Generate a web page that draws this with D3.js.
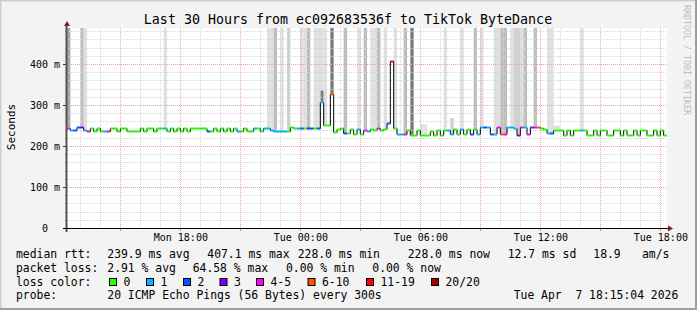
<!DOCTYPE html>
<html>
<head>
<meta charset="utf-8">
<script src="https://cdn.jsdelivr.net/npm/d3@7/dist/d3.min.js"></script>
<style>
  body { margin: 0; background: #fff; }
  svg text { font-family: "DejaVu Sans Mono", monospace; white-space: pre; }
</style>
</head>
<body>
<div id="chart"></div>
<script>
// 10 minute bins, Mon 12:20 -> Tue 18:20
const startTime = new Date(2026, 3, 6, 12, 20);
const endTime = new Date(2026, 3, 7, 18, 20);
const binMinutes = 10;

// median rtt per bin (ms)
const medianMs = [
  245, 240, 240, 247, 246, 238, 237, 244, 237, 244,
  237, 237, 237, 244, 244, 237, 244, 244, 237, 237,
  237, 237, 244, 237, 244, 244, 237, 244, 244, 244,
  237, 244, 237, 244, 237, 244, 237, 244, 244, 244,
  244, 244, 236, 237, 244, 237, 244, 237, 244, 237,
  244, 237, 237, 244, 237, 237, 244, 244, 237, 244,
  244, 240, 237, 237, 237, 237, 237, 246, 245, 244,
  244, 244, 244, 244, 243, 244, 308, 252, 250, 326,
  233, 242, 245, 231, 231, 241, 230, 241, 230, 240,
  236, 242, 240, 245, 240, 241, 255, 407, 244, 230,
  230, 230, 240, 228, 228, 238, 228, 228, 228, 237,
  228, 238, 228, 238, 240, 230, 241, 230, 241, 230,
  241, 230, 241, 230, 247, 247, 247, 230, 230, 247,
  230, 230, 247, 247, 245, 228, 247, 247, 229, 247,
  247, 246, 244, 241, 232, 232, 240, 240, 240, 228,
  240, 228, 240, 240, 238, 239, 228, 228, 239, 228,
  239, 239, 228, 228, 239, 239, 228, 239, 228, 228,
  239, 228, 239, 239, 228, 228, 239, 228, 239, 228,
];

// lost pings (of 20) per bin
const lossCount = [
  4, 1, 2, 2, 3, 1, 4, 0, 0, 0,
  0, 1, 4, 0, 0, 0, 0, 0, 0, 0,
  0, 0, 0, 0, 0, 0, 0, 0, 0, 1,
  0, 0, 0, 0, 0, 0, 0, 0, 0, 0,
  0, 0, 2, 0, 0, 0, 0, 0, 0, 0,
  0, 1, 0, 0, 0, 0, 1, 0, 0, 1,
  1, 1, 1, 1, 1, 1, 0, 0, 0, 1,
  2, 0, 3, 2, 0, 2, 1, 0, 0, 7,
  0, 0, 0, 2, 0, 0, 0, 1, 0, 4,
  1, 0, 0, 4, 0, 0, 2, 13, 0, 1,
  1, 4, 0, 0, 0, 0, 0, 0, 0, 0,
  0, 0, 0, 0, 1, 1, 0, 0, 1, 0,
  0, 2, 0, 1, 1, 2, 1, 2, 1, 4,
  7, 4, 1, 1, 1, 3, 4, 1, 4, 2,
  4, 7, 0, 0, 1, 2, 0, 0, 0, 0,
  0, 0, 0, 0, 1, 0, 0, 0, 0, 0,
  0, 0, 0, 0, 0, 0, 0, 0, 0, 0,
  0, 0, 0, 0, 0, 0, 0, 0, 0, 0,
];

// smoke: bin, highest rtt reached (ms), pings up there
const smokeBin = [
  0, 4, 5, 29, 60, 61, 62, 64, 66, 70,
  71, 72, 74, 75, 76, 76, 77, 79, 83, 87,
  89, 91, 92, 93, 95, 98, 101, 103, 106, 107,
  113, 115, 118, 122, 124, 128, 129, 130, 131, 133,
  134, 135, 136, 137, 140, 144, 145, 146, 147, 154,
];
const smokeHigh = [
  500, 500, 500, 500, 500, 500, 500, 500, 500, 500,
  500, 500, 500, 500, 500, 335, 500, 500, 500, 500,
  500, 500, 500, 500, 500, 500, 500, 500, 254, 253,
  500, 268, 500, 500, 500, 500, 500, 500, 500, 500,
  500, 500, 500, 500, 500, 500, 500, 250, 250, 500,
];
const smokeCount = [
  4, 3, 1, 1, 1, 1, 3, 1, 2, 1,
  1, 3, 1, 1, 1, 6, 1, 8, 3, 1,
  3, 1, 1, 3, 1, 1, 3, 6, 1, 1,
  1, 2, 1, 3, 1, 1, 1, 3, 3, 1,
  2, 2, 1, 3, 3, 1, 1, 1, 1, 1,
];

const yTicks = [0, 100, 200, 300, 400];
const xTickTimes = [
  new Date(2026, 3, 6, 18), new Date(2026, 3, 7, 0), new Date(2026, 3, 7, 6),
  new Date(2026, 3, 7, 12), new Date(2026, 3, 7, 18),
];

const titleText = "Last 30 Hours from ec092683536f to TikTok ByteDance";
const rttStats = ["239.9 ms avg", "407.1 ms max", "228.0 ms min", "228.0 ms now", "12.7 ms sd", "18.9", "am/s"];
const lossStats = ["2.91 % avg", "64.58 % max", "0.00 % min", "0.00 % now"];
const lossLabels = ["0", "1", "2", "3", "4-5", "6-10", "11-19", "20/20"];
const lossColors = ["#26ff00", "#00b8ff", "#0059ff", "#7e00ff", "#ff00ff", "#ff5500", "#ff0000", "#a10000"];
const probeText = "20 ICMP Echo Pings (56 Bytes) every 300s";
const stampText = "Tue Apr  7 18:15:04 2026";

// legend column positions
const rttCols = [107.3, 207.3, 297.7, 407.7, 507.7, 593.3, 642];
const lossCols = [107.3, 192.7, 286, 372.3];
const boxCols = [109, 146, 183, 219.5, 256, 307.5, 366, 431];

const width = 697;
const height = 310;
const plot = { left: 67, right: 667, top: 28, bottom: 228 };

const svg = d3
  .select("#chart")
  .append("svg")
  .attr("width", width)
  .attr("height", height)
  .attr("viewBox", [0, 0, width, height]);

// frame
svg.append("rect").attr("width", width).attr("height", height).attr("fill", "#f3f3f3");
svg.append("path").attr("d", `M0,${height} V0 H${width}`).attr("fill", "none").attr("stroke", "#cfcfcf").attr("stroke-width", 3);
svg.append("path").attr("d", `M0,${height} H${width} V0`).attr("fill", "none").attr("stroke", "#9e9e9e").attr("stroke-width", 4);

svg
  .append("rect")
  .attr("x", plot.left)
  .attr("y", plot.top)
  .attr("width", plot.right - plot.left)
  .attr("height", plot.bottom - plot.top)
  .attr("fill", "#fff");

const x = d3.scaleTime().domain([startTime, endTime]).range([plot.left, plot.right]);
const y = d3.scaleLinear().domain([0, 487.8]).range([plot.bottom, plot.top]).clamp(true);
const binTime = (i) => d3.timeMinute.offset(startTime, i * binMinutes);

const lossIndex = (n) => (n <= 3 ? n : n <= 5 ? 4 : n <= 10 ? 5 : n <= 19 ? 6 : 7);
const smokeShade = d3
  .scaleThreshold()
  .domain([2, 3, 4, 6])
  .range(["#e0e0e0", "#d0d0d0", "#bebebe", "#a8a8a8", "#7c7c7c"]);

// smoke
svg
  .append("g")
  .selectAll("rect")
  .data(smokeBin)
  .join("rect")
  .attr("x", (b) => x(binTime(b)))
  .attr("width", (b) => x(binTime(b + 1)) - x(binTime(b)))
  .attr("y", (b, i) => y(smokeHigh[i]))
  .attr("height", (b, i) => y(medianMs[b]) - y(smokeHigh[i]))
  .attr("fill", (b, i) => smokeShade(smokeCount[i]));

// grid
const grid = svg.append("g").attr("shape-rendering", "crispEdges");
d3.timeHour.range(d3.timeHour.ceil(startTime), endTime).forEach((t) => {
  const major = t.getHours() % 3 === 0;
  const px = Math.round(x(t)) + 0.5;
  grid
    .append("line")
    .attr("x1", px)
    .attr("x2", px)
    .attr("y1", plot.top)
    .attr("y2", plot.bottom)
    .attr("stroke", major ? "#f2a2a2" : "#d6d6d6")
    .attr("stroke-dasharray", "1,1");
  if (major) {
    grid
      .append("line")
      .attr("x1", px)
      .attr("x2", px)
      .attr("y1", plot.bottom)
      .attr("y2", plot.bottom + 3)
      .attr("stroke", "#e88");
  }
});
d3.range(20, 487, 20).forEach((v) => {
  const major = v % 100 === 0;
  const py = Math.round(y(v)) + 0.5;
  grid
    .append("line")
    .attr("x1", plot.left)
    .attr("x2", plot.right)
    .attr("y1", py)
    .attr("y2", py)
    .attr("stroke", major ? "#f2a2a2" : "#d6d6d6")
    .attr("stroke-dasharray", "1,1");
  grid
    .append("line")
    .attr("x1", plot.left - (major ? 4 : 2))
    .attr("x2", plot.left)
    .attr("y1", py)
    .attr("y2", py)
    .attr("stroke", major ? "#333" : "#999");
});

// median line: black steps, loss-coloured levels
const points = medianMs.map((v, i) => ({ t: binTime(i), v }));
points.push({ t: binTime(medianMs.length), v: medianMs[medianMs.length - 1] });

svg
  .append("path")
  .datum(points)
  .attr("fill", "none")
  .attr("stroke", "#000")
  .attr("stroke-width", 1)
  .attr(
    "d",
    d3
      .line()
      .curve(d3.curveStepAfter)
      .x((p) => x(p.t))
      .y((p) => Math.round(y(p.v)) + 0.5),
  );

svg
  .append("g")
  .selectAll("line")
  .data(medianMs)
  .join("line")
  .attr("x1", (v, i) => x(binTime(i)))
  .attr("x2", (v, i) => x(binTime(i + 1)))
  .attr("y1", (v) => Math.round(y(v)) + 0.5)
  .attr("y2", (v) => Math.round(y(v)) + 0.5)
  .attr("stroke", (v, i) => lossColors[lossIndex(lossCount[i])])
  .attr("stroke-width", 2);

// axes
svg
  .append("line")
  .attr("x1", plot.left - 0.5)
  .attr("x2", plot.left - 0.5)
  .attr("y1", plot.bottom + 4)
  .attr("y2", plot.top - 3)
  .attr("stroke", "#555")
  .attr("stroke-width", 2);
svg
  .append("line")
  .attr("x1", plot.left - 4)
  .attr("x2", plot.right + 2)
  .attr("y1", plot.bottom + 0.5)
  .attr("y2", plot.bottom + 0.5)
  .attr("stroke", "#000");
svg
  .append("path")
  .attr("d", `M${plot.left - 3},${plot.top - 2} L${plot.left + 3},${plot.top - 2} L${plot.left},${plot.top - 7} Z`)
  .attr("fill", "#8b1a1a");
svg
  .append("path")
  .attr("d", `M${plot.right + 1},${plot.bottom - 2.5} L${plot.right + 1},${plot.bottom + 3.5} L${plot.right + 6},${plot.bottom + 0.5} Z`)
  .attr("fill", "#8b1a1a");

svg
  .append("g")
  .attr("transform", `translate(${plot.left},0)`)
  .call(
    d3.axisLeft(y)
      .tickValues(yTicks)
      .tickSize(0)
      .tickPadding(7)
      .tickFormat((v) => (v === 0 ? "0  " : `${v} m`)),
  )
  .call((axis) => axis.select(".domain").remove())
  .call((axis) =>
    axis
      .selectAll(".tick text")
      .attr("font-family", "DejaVu Sans Mono")
      .attr("font-size", 10)
      .attr("dy", "0.37em")
      .attr("fill", "#000"),
  );

svg
  .append("g")
  .attr("transform", `translate(0,${plot.bottom})`)
  .call(
    d3.axisBottom(x)
      .tickValues(xTickTimes)
      .tickSize(0)
      .tickPadding(6)
      .tickFormat(d3.timeFormat("%a %H:%M")),
  )
  .call((axis) => axis.select(".domain").remove())
  .call((axis) =>
    axis
      .selectAll(".tick text")
      .attr("font-family", "DejaVu Sans Mono")
      .attr("font-size", 10)
      .attr("fill", "#000"),
  );

// texts
svg
  .append("text")
  .attr("x", 348)
  .attr("y", 24)
  .attr("text-anchor", "middle")
  .attr("font-size", 13.3)
  .text(titleText);

svg
  .append("text")
  .attr("transform", "translate(15,127) rotate(-90)")
  .attr("text-anchor", "middle")
  .attr("font-size", 11)
  .text("Seconds");

svg
  .append("text")
  .attr("transform", "translate(684,5) rotate(90)")
  .attr("font-size", 8.3)
  .attr("fill", "#bcbcbc")
  .text("RRDTOOL / TOBI OETIKER");

const legend = svg.append("g").attr("font-size", 11.4).attr("fill", "#000");
const rowY = [258, 271.8, 285.6, 299.4];

legend.append("text").attr("x", 16).attr("y", rowY[0]).text("median rtt:");
rttStats.forEach((s, i) => legend.append("text").attr("x", rttCols[i]).attr("y", rowY[0]).text(s));

legend.append("text").attr("x", 16).attr("y", rowY[1]).text("packet loss:");
lossStats.forEach((s, i) => legend.append("text").attr("x", lossCols[i]).attr("y", rowY[1]).text(s));

legend.append("text").attr("x", 16).attr("y", rowY[2]).text("loss color:");
lossLabels.forEach((label, i) => {
  legend
    .append("rect")
    .attr("x", boxCols[i] + 0.5)
    .attr("y", 278.5)
    .attr("width", 7)
    .attr("height", 7)
    .attr("fill", lossColors[i])
    .attr("stroke", "#000")
    .attr("stroke-width", 1);
  legend
    .append("text")
    .attr("x", boxCols[i] + 14.5)
    .attr("y", rowY[2])
    .text(label);
});

legend.append("text").attr("x", 16).attr("y", rowY[3]).text("probe:");
legend.append("text").attr("x", 107.3).attr("y", rowY[3]).text(probeText);
legend.append("text").attr("x", 513.7).attr("y", rowY[3]).text(stampText);
</script>
</body>
</html>
